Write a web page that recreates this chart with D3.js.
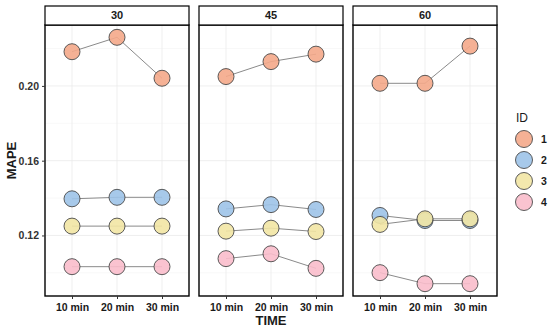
<!DOCTYPE html>
<html>
<head>
<meta charset="utf-8">
<script src="https://cdn.jsdelivr.net/npm/d3@7"></script>
<style>
  body { margin: 0; background: #fff; }
  text { font-family: "Liberation Sans", Arial, sans-serif; }
</style>
</head>
<body>
<div id="chart"></div>
<script>
// facet panels, x categories and groups
const panels = ['30', '45', '60'];
const times = ['10 min', '20 min', '30 min'];
const ids = ['1', '2', '3', '4'];
const yTicks = [0.12, 0.16, 0.20];
const yMinor = [0.10, 0.14, 0.18, 0.22];

// MAPE values, one array per panel, per id (10/20/30 min)
const mape30 = {
  '1': [0.2183, 0.2260, 0.2041],
  '2': [0.1396, 0.1404, 0.1404],
  '3': [0.1250, 0.1250, 0.1250],
  '4': [0.1033, 0.1033, 0.1033]
};
const mape45 = {
  '1': [0.2050, 0.2130, 0.2170],
  '2': [0.1342, 0.1365, 0.1339],
  '3': [0.1223, 0.1239, 0.1221],
  '4': [0.1076, 0.1102, 0.1024]
};
const mape60 = {
  '1': [0.2014, 0.2014, 0.2213],
  '2': [0.1307, 0.1280, 0.1280],
  '3': [0.1259, 0.1289, 0.1289],
  '4': [0.1001, 0.0942, 0.0942]
};
const panelData = { '30': mape30, '45': mape45, '60': mape60 };

const colors = ['#F4A98A', '#9DC3E8', '#F2E6A4', '#F9BCCB'];

const W = 550, H = 330;
const margin = { top: 25, bottom: 34, left: 45 };
const panelW = 144, gap = 10;
const plotH = H - margin.top - margin.bottom;

const svg = d3.select('#chart').append('svg')
  .attr('width', W).attr('height', H);

// y scale with ggplot-like 5% expansion
const allVals = Object.values(panelData).flatMap(p => Object.values(p).flat());
const [lo, hi] = d3.extent(allVals);
const pad = (hi - lo) * 0.05;
const y = d3.scaleLinear().domain([lo - pad, hi + pad]).range([margin.top + plotH, margin.top]);

// discrete x with 0.6 unit expansion
const x = d3.scalePoint().domain(times).range([0, panelW]).padding(0.6);

const color = d3.scaleOrdinal().domain(ids).range(colors);

panels.forEach((p, pi) => {
  const x0 = margin.left + pi * (panelW + gap);
  const g = svg.append('g').attr('transform', `translate(${x0},0)`);

  // grid
  g.selectAll('.minor').data(yMinor.filter(v => y(v) > margin.top && y(v) < margin.top + plotH))
    .enter().append('line')
      .attr('x1', 0).attr('x2', panelW)
      .attr('y1', d => y(d)).attr('y2', d => y(d))
      .attr('stroke', '#f3f3f3').attr('stroke-width', 0.6);
  g.selectAll('.major').data(yTicks)
    .enter().append('line')
      .attr('x1', 0).attr('x2', panelW)
      .attr('y1', d => y(d)).attr('y2', d => y(d))
      .attr('stroke', '#ebebeb').attr('stroke-width', 0.8);
  g.selectAll('.vgrid').data(times)
    .enter().append('line')
      .attr('x1', d => x(d)).attr('x2', d => x(d))
      .attr('y1', margin.top).attr('y2', margin.top + plotH)
      .attr('stroke', '#ebebeb').attr('stroke-width', 0.8);

  const data = panelData[p];
  const line = d3.line().x((d, i) => x(times[i])).y(d => y(d));

  ids.forEach(id => {
    g.append('path')
      .attr('d', line(data[id]))
      .attr('fill', 'none')
      .attr('stroke', '#8a8a8a')
      .attr('stroke-width', 1);
  });
  ids.forEach(id => {
    g.selectAll(null).data(data[id]).enter().append('circle')
      .attr('cx', (d, i) => x(times[i]))
      .attr('cy', d => y(d))
      .attr('r', 8)
      .attr('fill', color(id))
      .attr('fill-opacity', 0.9)
      .attr('stroke', '#4a4a4a')
      .attr('stroke-width', 0.9);
  });

  // panel border
  g.append('rect')
    .attr('x', 0).attr('y', margin.top)
    .attr('width', panelW).attr('height', plotH)
    .attr('fill', 'none').attr('stroke', '#000').attr('stroke-width', 1.4);

  // strip
  g.append('rect')
    .attr('x', 0).attr('y', 6)
    .attr('width', panelW).attr('height', margin.top - 6)
    .attr('fill', '#fff').attr('stroke', '#000').attr('stroke-width', 1.2);
  g.append('text')
    .attr('x', panelW / 2).attr('y', 16)
    .attr('text-anchor', 'middle').attr('dominant-baseline', 'middle')
    .attr('font-size', 11).attr('font-weight', 'bold').attr('fill', '#1a1a1a')
    .text(p);

  // x axis
  const xa = g.append('g').attr('transform', `translate(0,${margin.top + plotH})`)
    .call(d3.axisBottom(x).tickSize(3).tickSizeOuter(0));
  xa.select('.domain').remove();
  xa.selectAll('line').attr('stroke', '#333');
  xa.selectAll('text').attr('font-size', 10.5).attr('font-weight', 'bold')
    .attr('fill', '#1a1a1a').attr('dy', '0.9em')
    .style('font-family', '"Liberation Sans", Arial, sans-serif');
});

// y axis
const ya = svg.append('g').attr('transform', `translate(${margin.left},0)`)
  .call(d3.axisLeft(y).tickValues(yTicks).tickFormat(d3.format('.2f')).tickSize(3).tickSizeOuter(0));
ya.select('.domain').remove();
ya.selectAll('line').attr('stroke', '#333');
ya.selectAll('text').attr('font-size', 10.5).attr('font-weight', 'bold')
  .attr('fill', '#333').style('font-family', '"Liberation Sans", Arial, sans-serif');

// axis titles
const plotsRight = margin.left + 3 * panelW + 2 * gap;
svg.append('text')
  .attr('x', (margin.left + plotsRight) / 2).attr('y', 325)
  .attr('text-anchor', 'middle')
  .attr('font-size', 13).attr('font-weight', 'bold').attr('fill', '#1a1a1a')
  .text('TIME');
svg.append('text')
  .attr('transform', `translate(16,${margin.top + plotH / 2}) rotate(-90)`)
  .attr('text-anchor', 'middle')
  .attr('font-size', 13).attr('font-weight', 'bold').attr('fill', '#1a1a1a')
  .text('MAPE');

// legend
const lg = svg.append('g').attr('transform', 'translate(514,0)');
lg.append('text').attr('x', 2).attr('y', 122)
  .attr('font-size', 12).attr('fill', '#1a1a1a').text('ID');
lg.selectAll('circle').data(ids).enter().append('circle')
  .attr('cx', 10).attr('cy', (d, i) => 139 + i * 21)
  .attr('r', 8.5)
  .attr('fill', d => color(d)).attr('fill-opacity', 0.9)
  .attr('stroke', '#4a4a4a').attr('stroke-width', 0.9);
lg.selectAll('.lab').data(ids).enter().append('text')
  .attr('x', 27).attr('y', (d, i) => 139 + i * 21)
  .attr('dominant-baseline', 'central')
  .attr('font-size', 10.5).attr('font-weight', 'bold').attr('fill', '#1a1a1a')
  .text(d => d);
</script>
</body>
</html>
